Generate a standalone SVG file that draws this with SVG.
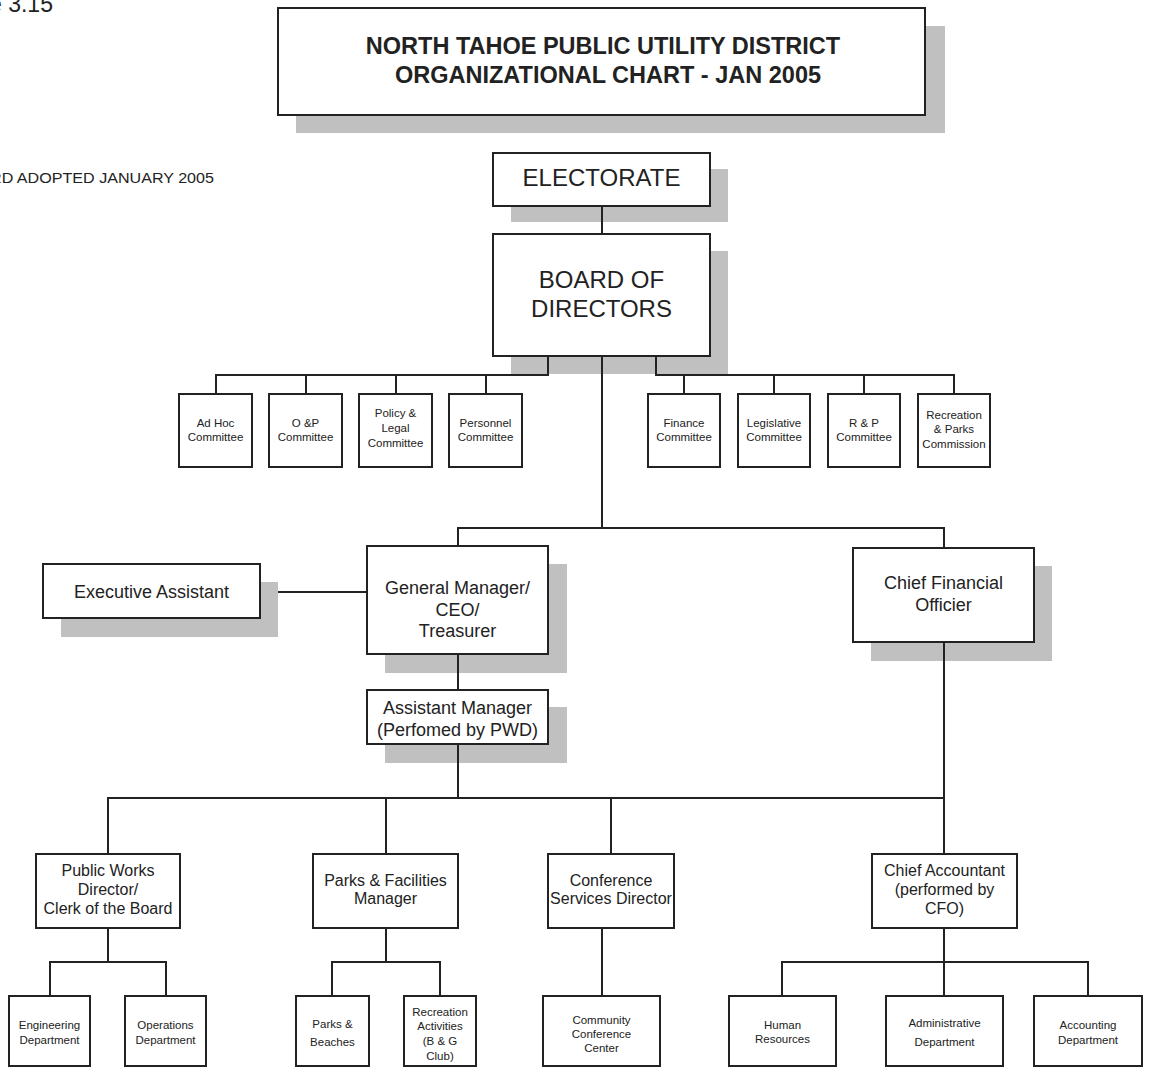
<svg xmlns="http://www.w3.org/2000/svg" width="1150" height="1068" viewBox="0 0 1150 1068">
<style>
.box{fill:#fff;stroke:#222;stroke-width:2}
.sh{fill:#c0c0c0}
.ln{stroke:#222;stroke-width:2;fill:none}
text{font-family:"Liberation Sans",Arial,sans-serif;fill:#222;text-anchor:middle}
.ttl{font-size:23.5px;font-weight:bold}
.xl{font-size:24px}
.l{font-size:18px}
.m{font-size:16px}
.s{font-size:11.5px}
.note{text-anchor:start}
</style>
<rect width="1150" height="1068" fill="#fff"/>
<text class="note" x="-11" y="12" style="font-size:23px">e 3.15</text>
<text class="note" x="-10" y="183" style="font-size:15px" textLength="224" lengthAdjust="spacingAndGlyphs">RD ADOPTED JANUARY 2005</text>

<g id="title">
<rect class="sh" x="296" y="26" width="649" height="107"/>
<rect class="box" x="278" y="8" width="647" height="107"/>
<text class="ttl" x="603" y="54">NORTH TAHOE PUBLIC UTILITY DISTRICT</text>
<text class="ttl" x="608" y="83">ORGANIZATIONAL CHART - JAN 2005</text>
</g>

<g id="electorate">
<rect class="sh" x="511" y="169" width="217" height="53"/>
<rect class="box" x="493" y="153" width="217" height="53"/>
<text class="xl" x="601.5" y="186">ELECTORATE</text>
</g>

<g id="board">
<rect class="sh" x="511" y="251" width="217" height="123"/>
<rect class="box" x="493" y="234" width="217" height="122"/>
<text class="xl" x="601.5" y="288">BOARD OF</text>
<text class="xl" x="601.5" y="317">DIRECTORS</text>
</g>

<g id="adhoc"><rect class="box" x="179" y="394" width="73" height="73"/><text class="s" x="215.5" y="427">Ad Hoc</text><text class="s" x="215.5" y="441">Committee</text></g>
<g id="op"><rect class="box" x="269" y="394" width="73" height="73"/><text class="s" x="305.5" y="427">O &amp;P</text><text class="s" x="305.5" y="441">Committee</text></g>
<g id="policy"><rect class="box" x="359" y="394" width="73" height="73"/><text class="s" x="395.5" y="417">Policy &amp;</text><text class="s" x="395.5" y="432">Legal</text><text class="s" x="395.5" y="447">Committee</text></g>
<g id="personnel"><rect class="box" x="449" y="394" width="73" height="73"/><text class="s" x="485.5" y="427">Personnel</text><text class="s" x="485.5" y="441">Committee</text></g>
<g id="finance"><rect class="box" x="648" y="394" width="72" height="73"/><text class="s" x="684" y="427">Finance</text><text class="s" x="684" y="441">Committee</text></g>
<g id="legislative"><rect class="box" x="738" y="394" width="72" height="73"/><text class="s" x="774" y="427">Legislative</text><text class="s" x="774" y="441">Committee</text></g>
<g id="rp"><rect class="box" x="828" y="394" width="72" height="73"/><text class="s" x="864" y="427">R &amp; P</text><text class="s" x="864" y="441">Committee</text></g>
<g id="recparks"><rect class="box" x="918" y="394" width="72" height="73"/><text class="s" x="954" y="419">Recreation</text><text class="s" x="954" y="433">&amp; Parks</text><text class="s" x="954" y="448">Commission</text></g>

<g id="exec">
<rect class="sh" x="61" y="582" width="217" height="55"/>
<rect class="box" x="43" y="564" width="217" height="54"/>
<text class="l" x="151.5" y="598">Executive Assistant</text>
</g>

<g id="gm">
<rect class="sh" x="385" y="564" width="182" height="109"/>
<rect class="box" x="367" y="546" width="181" height="108"/>
<text class="l" x="457.5" y="594">General Manager/</text>
<text class="l" x="457.5" y="616">CEO/</text>
<text class="l" x="457.5" y="637">Treasurer</text>
</g>

<g id="cfo">
<rect class="sh" x="871" y="566" width="181" height="95"/>
<rect class="box" x="853" y="548" width="181" height="94"/>
<text class="l" x="943.5" y="589">Chief Financial</text>
<text class="l" x="943.5" y="611">Officier</text>
</g>

<g id="am">
<rect class="sh" x="385" y="707" width="182" height="56"/>
<rect class="box" x="367" y="690" width="181" height="54"/>
<text class="l" x="457.5" y="714">Assistant Manager</text>
<text class="l" x="457.5" y="736">(Perfomed by PWD)</text>
</g>

<g id="pwd"><rect class="box" x="36" y="854" width="144" height="74"/><text class="m" x="108" y="876">Public Works</text><text class="m" x="108" y="895">Director/</text><text class="m" x="108" y="914">Clerk of the Board</text></g>
<g id="pfm"><rect class="box" x="313" y="854" width="145" height="74"/><text class="m" x="385.5" y="886">Parks &amp; Facilities</text><text class="m" x="385.5" y="904">Manager</text></g>
<g id="csd"><rect class="box" x="548" y="854" width="126" height="74"/><text class="m" x="611" y="886">Conference</text><text class="m" x="611" y="904">Services Director</text></g>
<g id="ca"><rect class="box" x="872" y="854" width="145" height="74"/><text class="m" x="944.5" y="876">Chief Accountant</text><text class="m" x="944.5" y="895">(performed by</text><text class="m" x="944.5" y="914">CFO)</text></g>

<g id="eng"><rect class="box" x="9" y="996" width="81" height="70"/><text class="s" x="49.5" y="1029">Engineering</text><text class="s" x="49.5" y="1044">Department</text></g>
<g id="ops"><rect class="box" x="125" y="996" width="81" height="70"/><text class="s" x="165.5" y="1029">Operations</text><text class="s" x="165.5" y="1044">Department</text></g>
<g id="parks"><rect class="box" x="296" y="996" width="73" height="70"/><text class="s" x="332.5" y="1028">Parks &amp;</text><text class="s" x="332.5" y="1046">Beaches</text></g>
<g id="rec"><rect class="box" x="404" y="996" width="72" height="70"/><text class="s" x="440" y="1016">Recreation</text><text class="s" x="440" y="1030">Activities</text><text class="s" x="440" y="1045">(B &amp; G</text><text class="s" x="440" y="1060">Club)</text></g>
<g id="ccc"><rect class="box" x="543" y="996" width="117" height="70"/><text class="s" x="601.5" y="1024">Community</text><text class="s" x="601.5" y="1038">Conference</text><text class="s" x="601.5" y="1052">Center</text></g>
<g id="hr"><rect class="box" x="729" y="996" width="107" height="70"/><text class="s" x="782.5" y="1029">Human</text><text class="s" x="782.5" y="1043">Resources</text></g>
<g id="admin"><rect class="box" x="886" y="996" width="117" height="70"/><text class="s" x="944.5" y="1027">Administrative</text><text class="s" x="944.5" y="1046">Department</text></g>
<g id="acct"><rect class="box" x="1034" y="996" width="108" height="70"/><text class="s" x="1088" y="1029">Accounting</text><text class="s" x="1088" y="1044">Department</text></g>

<g id="connectors" class="ln">
<path d="M602 206V234"/>
<path d="M548 356V375H216V394M306 375V394M396 375V394M486 375V394"/>
<path d="M656 356V375H954V394M684 375V394M774 375V394M864 375V394"/>
<path d="M602 356V528"/>
<path d="M458 546V528H944V548"/>
<path d="M278 592H367"/>
<path d="M458 654V690"/>
<path d="M458 744V798"/>
<path d="M944 642V798"/>
<path d="M108 854V798H944V854M386 798V854M611 798V854"/>
<path d="M108 928V962M50 996V962H166V996"/>
<path d="M386 928V962M332 996V962H440V996"/>
<path d="M602 928V996"/>
<path d="M944 928V996M782 996V962H1088V996"/>
</g>
</svg>
